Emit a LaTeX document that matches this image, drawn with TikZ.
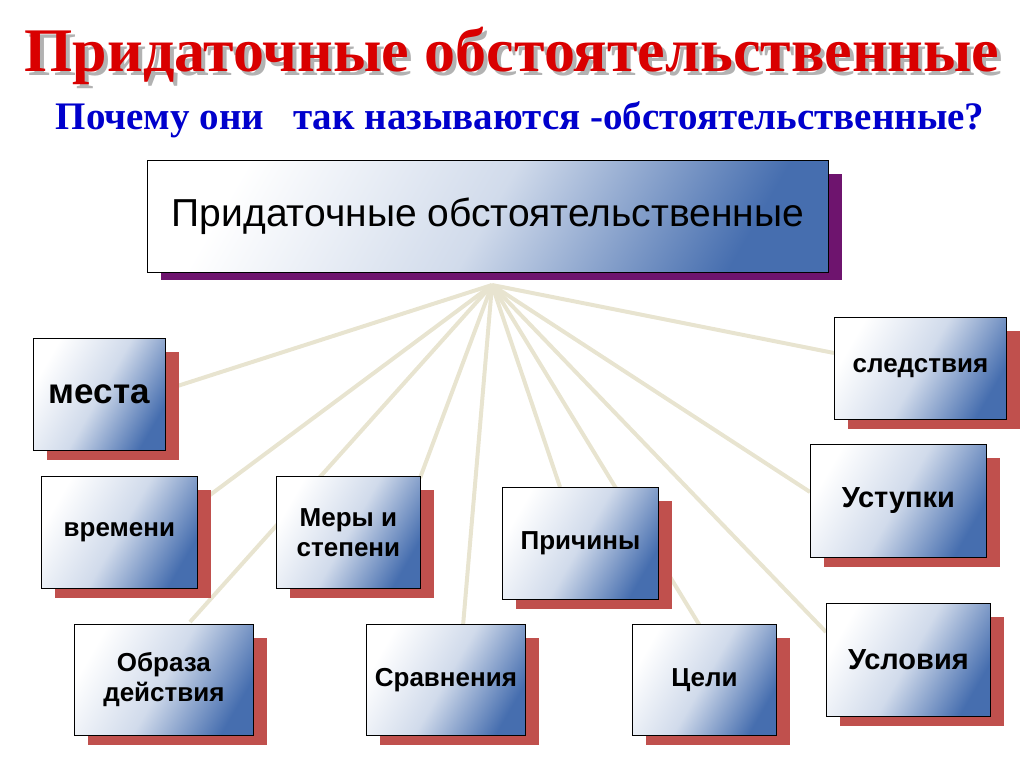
\documentclass[tikz,border=0pt]{standalone}
\usepackage{fontspec}
\setmainfont{Liberation Serif}
\setsansfont{Liberation Sans}
\begin{document}
\begin{tikzpicture}[x=1pt,y=-1pt,
  bx/.style={draw=black,line width=0.8pt,shading=axis,left color=white,right color=gbl,middle color=white!75!gbl,shading angle=60,align=center,font=\sffamily\bfseries\fontsize{26}{30}\selectfont,inner sep=0pt},
  ln/.style={draw=lnc,line width=4pt}]
\definecolor{gbl}{RGB}{70,110,175}
\definecolor{lnc}{RGB}{232,228,208}
\definecolor{shr}{RGB}{192,80,77}
\definecolor{shp}{RGB}{110,20,110}
\useasboundingbox (0,0) rectangle (1024,767);
\node[text=gray!60,font=\bfseries\fontsize{62}{66}\selectfont] at (516,60) {Придаточные обстоятельственные};
\node[text=red!85!black,font=\bfseries\fontsize{62}{66}\selectfont] (t) at (512,56) {Придаточные обстоятельственные};
\node[text=blue!80!black,font=\bfseries\fontsize{39}{42}\selectfont] (s) at (520,120) {Почему они\ \ \ так называются -обстоятельственные?};
\coordinate (h) at (492,285);
\coordinate (e1) at (165,390); \coordinate (e2) at (210,495); \coordinate (e3) at (420,478);
\coordinate (e4) at (190,622); \coordinate (e5) at (463,626); \coordinate (e6) at (560,487);
\coordinate (e7) at (700,626); \coordinate (e8) at (810,492); \coordinate (e9) at (826,632);
\coordinate (e10) at (834,353);
\foreach \e in {e1,e2,e3,e4,e5,e6,e7,e8,e9,e10} \draw[ln] (h) -- (\e);
\fill[shp] (161,174) rectangle (842,280);
\node[bx,minimum width=681,minimum height=112,font=\sffamily\fontsize{39}{44}\selectfont,anchor=north west] (m) at (147,160) {Придаточные обстоятельственные};
\newcommand\mybox[6]{%
 \fill[shr] (#1+14,#2+14) rectangle (#3+14,#4+10);
 \node[bx,minimum width=#3-#1,minimum height=#4-#2,anchor=north west] (#5) at (#1,#2) {#6};}
\mybox{33}{338}{165}{450}{b1}{{\fontsize{35}{38}\selectfont места}}
\mybox{41}{476}{197}{588}{b2}{времени}
\mybox{276}{476}{420}{588}{b3}{Меры и\\степени}
\mybox{502}{487}{658}{599}{b4}{Причины}
\mybox{834}{317}{1006}{419}{b5}{следствия}
\mybox{810}{444}{986}{557}{b6}{{\fontsize{29}{32}\selectfont Уступки}}
\mybox{74}{624}{253}{735}{b7}{Образа\\действия}
\mybox{366}{624}{525}{735}{b8}{Сравнения}
\mybox{632}{624}{776}{735}{b9}{Цели}
\mybox{826}{603}{990}{716}{b10}{{\fontsize{29}{32}\selectfont Условия}}
\end{tikzpicture}
\end{document}
